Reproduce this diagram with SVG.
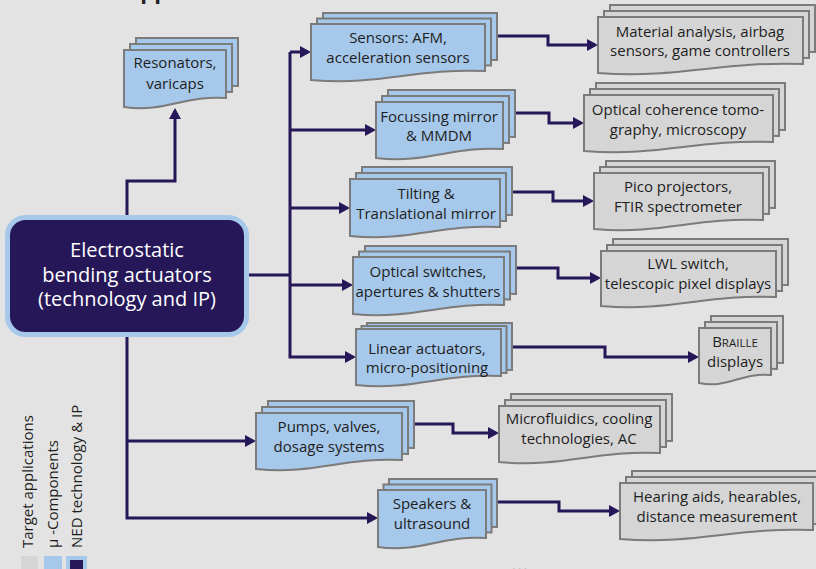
<svg xmlns="http://www.w3.org/2000/svg" xmlns:xlink="http://www.w3.org/1999/xlink" width="816" height="569" viewBox="0 0 816 569">
<style>
.bg{fill:#e3e3e3}
.mu use,.mu path{fill:#a6c8ea;stroke:#7b7b7b;stroke-width:2}
.tg use,.tg path{fill:#d5d5d5;stroke:#7b7b7b;stroke-width:2}
text{font-family:"Open Sans","Liberation Sans",sans-serif;font-size:15px;fill:#1e1e1e}
.c{text-anchor:middle}
.main text{fill:#ffffff;font-size:20px}
#connectors path{fill:none;stroke:#261758;stroke-width:3}
.ar{marker-end:url(#arr)}
.title{font-weight:bold;font-size:22px;fill:#222}
</style>
<defs>
<marker id="arr" markerUnits="userSpaceOnUse" markerWidth="11" markerHeight="12" refX="8" refY="6" orient="auto">
<path d="M0,0 L11,6 L0,12 Z" fill="#261758"/>
</marker>
<path id="d-res" d="M124,50 H226 V98 C185,95 165,113 124,107 Z"/>
<path id="d-sen" d="M311,24 H485 V71 C415,68 381,86 311,80 Z"/>
<path id="d-foc" d="M376,102 H503 V149 C452,146 427,164 376,158 Z"/>
<path id="d-til" d="M350,179 H500 V227 C440,224 410,242 350,236 Z"/>
<path id="d-opt" d="M353,257 H504 V305 C444,302 413,320 353,314 Z"/>
<path id="d-lin" d="M356,329 H501 V376 C443,373 414,391 356,385 Z"/>
<path id="d-pum" d="M256,413 H402 V460 C344,457 314,475 256,469 Z"/>
<path id="d-spk" d="M378,490 H486 V538 C443,535 421,553 378,547 Z"/>
<path id="d-mat" d="M598,17 H803 V64 C721,61 680,79 598,73 Z"/>
<path id="d-oct" d="M584,95 H773 V142 C697,139 660,157 584,151 Z"/>
<path id="d-pic" d="M594,173 H763 V220 C695,217 662,235 594,229 Z"/>
<path id="d-lwl" d="M601,251 H776 V297 C706,294 671,312 601,306 Z"/>
<path id="d-bra" d="M699,328 H771 V375 C742,372 728,389 699,383 Z"/>
<path id="d-mic" d="M499,406 H660 V453 C596,450 563,468 499,462 Z"/>
<path id="d-hea" d="M620,483 H813 V530 C736,527 697,545 620,539 Z"/>
</defs>
<rect class="bg" x="0" y="0" width="816" height="569"/>
<text class="title" x="30" y="-1.5">Fields of application</text>

<g id="connectors">
<path class="ar" d="M127,216 V181 H175 V111"/>
<path d="M249,275 H290"/>
<path class="ar" d="M290,52 H308"/>
<path class="ar" d="M290,52 V357 H353"/>
<path class="ar" d="M290,130 H373"/>
<path class="ar" d="M290,208 H347"/>
<path class="ar" d="M290,285 H350"/>
<path class="ar" d="M127,336 V518 H375"/>
<path class="ar" d="M127,441 H253"/>
<path class="ar" d="M498,36 H548 V45 H595"/>
<path class="ar" d="M515,113 H549 V123 H581"/>
<path class="ar" d="M512,192 H553 V201 H591"/>
<path class="ar" d="M517,268 H558 V278 H598"/>
<path class="ar" d="M512,347 H605 V357 H696"/>
<path class="ar" d="M414,424 H453 V433 H496"/>
<path class="ar" d="M497,502 H559 V511 H617"/>
</g>

<g id="node-main" class="main">
<rect x="7.5" y="217.5" width="239" height="117" rx="18" fill="#261758" stroke="#a6c8ea" stroke-width="5"/>
<text class="c" x="127" y="257">Electrostatic</text>
<text class="c" x="127" y="282">bending actuators</text>
<text class="c" x="127" y="306">(technology and IP)</text>
</g>

<g id="node-resonators" class="mu">
<use xlink:href="#d-res" href="#d-res" transform="translate(12,-12)"/>
<use xlink:href="#d-res" href="#d-res" transform="translate(6,-6)"/>
<use xlink:href="#d-res" href="#d-res"/>
<text class="c" x="175" y="68">Resonators,</text>
<text class="c" x="175" y="89">varicaps</text>
</g>

<g id="node-sensors" class="mu">
<use xlink:href="#d-sen" href="#d-sen" transform="translate(12,-11)"/>
<use xlink:href="#d-sen" href="#d-sen" transform="translate(6,-5.5)"/>
<use xlink:href="#d-sen" href="#d-sen"/>
<text class="c" x="398" y="43">Sensors: AFM,</text>
<text class="c" x="398" y="63">acceleration sensors</text>
</g>

<g id="node-focussing" class="mu">
<use xlink:href="#d-foc" href="#d-foc" transform="translate(12,-12)"/>
<use xlink:href="#d-foc" href="#d-foc" transform="translate(6,-6)"/>
<use xlink:href="#d-foc" href="#d-foc"/>
<text class="c" x="439" y="122">Focussing mirror</text>
<text class="c" x="439" y="141">&amp; MMDM</text>
</g>

<g id="node-tilting" class="mu">
<use xlink:href="#d-til" href="#d-til" transform="translate(12,-12)"/>
<use xlink:href="#d-til" href="#d-til" transform="translate(6,-6)"/>
<use xlink:href="#d-til" href="#d-til"/>
<text class="c" x="426" y="199">Tilting &amp;</text>
<text class="c" x="426" y="219">Translational mirror</text>
</g>

<g id="node-optical" class="mu">
<use xlink:href="#d-opt" href="#d-opt" transform="translate(12,-11)"/>
<use xlink:href="#d-opt" href="#d-opt" transform="translate(6,-5.5)"/>
<use xlink:href="#d-opt" href="#d-opt"/>
<text class="c" x="428" y="277">Optical switches,</text>
<text class="c" x="428" y="297">apertures &amp; shutters</text>
</g>

<g id="node-linear" class="mu">
<use xlink:href="#d-lin" href="#d-lin" transform="translate(11,-6)"/>
<use xlink:href="#d-lin" href="#d-lin" transform="translate(5.5,-3)"/>
<use xlink:href="#d-lin" href="#d-lin"/>
<text class="c" x="427" y="354">Linear actuators,</text>
<text class="c" x="427" y="373">micro-positioning</text>
</g>

<g id="node-pumps" class="mu">
<use xlink:href="#d-pum" href="#d-pum" transform="translate(12,-12)"/>
<use xlink:href="#d-pum" href="#d-pum" transform="translate(6,-6)"/>
<use xlink:href="#d-pum" href="#d-pum"/>
<text class="c" x="329" y="432">Pumps, valves,</text>
<text class="c" x="329" y="452">dosage systems</text>
</g>

<g id="node-speakers" class="mu">
<use xlink:href="#d-spk" href="#d-spk" transform="translate(11,-11)"/>
<use xlink:href="#d-spk" href="#d-spk" transform="translate(5.5,-5.5)"/>
<use xlink:href="#d-spk" href="#d-spk"/>
<text class="c" x="432" y="509">Speakers &amp;</text>
<text class="c" x="432" y="529">ultrasound</text>
</g>

<g id="node-material" class="tg">
<use xlink:href="#d-mat" href="#d-mat" transform="translate(12,-12)"/>
<use xlink:href="#d-mat" href="#d-mat" transform="translate(6,-6)"/>
<use xlink:href="#d-mat" href="#d-mat"/>
<text class="c" x="700" y="37">Material analysis, airbag</text>
<text class="c" x="700" y="56">sensors, game controllers</text>
</g>

<g id="node-oct" class="tg">
<use xlink:href="#d-oct" href="#d-oct" transform="translate(12,-12)"/>
<use xlink:href="#d-oct" href="#d-oct" transform="translate(6,-6)"/>
<use xlink:href="#d-oct" href="#d-oct"/>
<text class="c" x="678" y="115">Optical coherence tomo-</text>
<text class="c" x="678" y="135">graphy, microscopy</text>
</g>

<g id="node-pico" class="tg">
<use xlink:href="#d-pic" href="#d-pic" transform="translate(12,-12)"/>
<use xlink:href="#d-pic" href="#d-pic" transform="translate(6,-6)"/>
<use xlink:href="#d-pic" href="#d-pic"/>
<text class="c" x="678" y="192">Pico projectors,</text>
<text class="c" x="678" y="212">FTIR spectrometer</text>
</g>

<g id="node-lwl" class="tg">
<use xlink:href="#d-lwl" href="#d-lwl" transform="translate(12,-12)"/>
<use xlink:href="#d-lwl" href="#d-lwl" transform="translate(6,-6)"/>
<use xlink:href="#d-lwl" href="#d-lwl"/>
<text class="c" x="688" y="269">LWL switch,</text>
<text class="c" x="688" y="289">telescopic pixel displays</text>
</g>

<g id="node-braille" class="tg">
<use xlink:href="#d-bra" href="#d-bra" transform="translate(12,-12)"/>
<use xlink:href="#d-bra" href="#d-bra" transform="translate(6,-6)"/>
<use xlink:href="#d-bra" href="#d-bra"/>
<text class="c" x="735" y="347">B<tspan font-size="11.5">RAILLE</tspan></text>
<text class="c" x="735" y="367">displays</text>
</g>

<g id="node-microfluidics" class="tg">
<use xlink:href="#d-mic" href="#d-mic" transform="translate(12,-12)"/>
<use xlink:href="#d-mic" href="#d-mic" transform="translate(6,-6)"/>
<use xlink:href="#d-mic" href="#d-mic"/>
<text class="c" x="579" y="424">Microfluidics, cooling</text>
<text class="c" x="579" y="444">technologies, AC</text>
</g>

<g id="node-hearing" class="tg">
<use xlink:href="#d-hea" href="#d-hea" transform="translate(12,-12)"/>
<use xlink:href="#d-hea" href="#d-hea" transform="translate(6,-6)"/>
<use xlink:href="#d-hea" href="#d-hea"/>
<text class="c" x="717" y="502">Hearing aids, hearables,</text>
<text class="c" x="717" y="522">distance measurement</text>
</g>

<g id="legend">
<text x="33" y="548" transform="rotate(-90 33 548)">Target applications</text>
<text x="58" y="548" transform="rotate(-90 58 548)">μ -Components</text>
<text x="82" y="548" transform="rotate(-90 82 548)">NED technology &amp; IP</text>
<rect x="21" y="556" width="17" height="18" fill="#d5d5d5"/>
<rect x="44" y="556" width="18" height="18" fill="#a6c8ea"/>
<rect x="68" y="558" width="17" height="17" fill="#261758" stroke="#a6c8ea" stroke-width="4"/>
</g>
<text x="511" y="572" style="font-size:20px;font-weight:bold;fill:#333">...</text>
</svg>
